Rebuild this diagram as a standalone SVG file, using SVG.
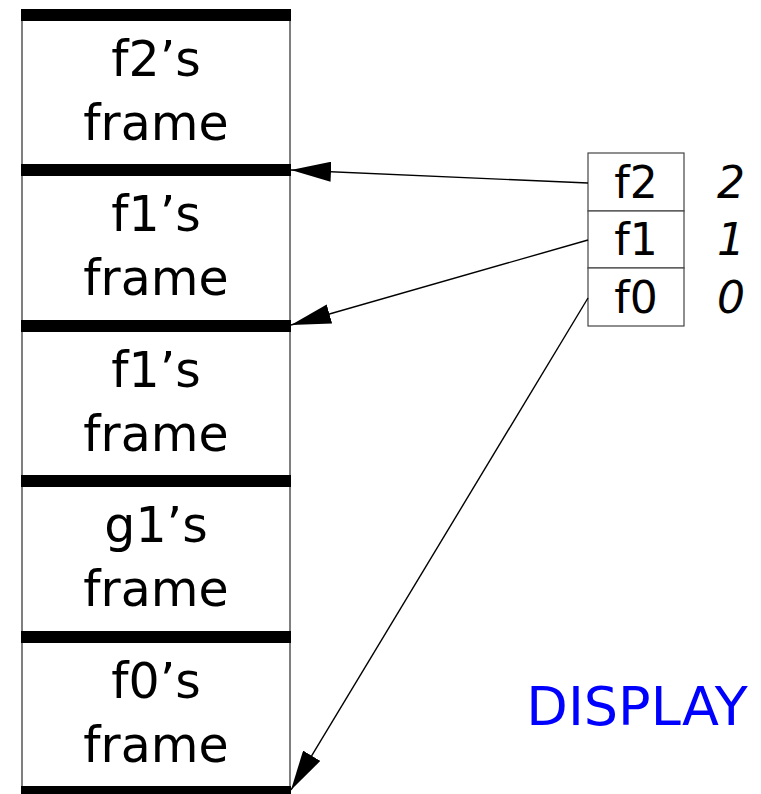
<svg xmlns="http://www.w3.org/2000/svg" width="761" height="794" viewBox="0 0 761 794">
<style>
.side{stroke:#555;stroke-width:1.5;fill:none}
.bar{fill:#000}
.lbl{font-family:"DejaVu Sans",sans-serif;font-size:49px;fill:#000;text-anchor:middle}
.cell{fill:#fff;stroke:#444;stroke-width:1.2}
.ct{font-family:"DejaVu Sans",sans-serif;font-size:44px;fill:#000;text-anchor:middle}
.num{font-family:"DejaVu Sans",sans-serif;font-style:italic;font-size:44px;fill:#000;text-anchor:middle}
.conn{stroke:#000;stroke-width:1.4;fill:none;marker-end:url(#ah)}
</style>
<defs>
<marker id="ah" markerUnits="userSpaceOnUse" markerWidth="40" markerHeight="20" refX="40" refY="10" orient="auto">
<path d="M0,0 L40,10 L0,20 z" fill="#000"/>
</marker>
</defs>
<rect width="761" height="794" fill="#fff"/>
<g id="stack">
<line class="side" x1="22" y1="15" x2="22" y2="791"/>
<line class="side" x1="290" y1="15" x2="290" y2="791"/>
<rect class="bar" x="21" y="9" width="270" height="12"/>
<rect class="bar" x="21" y="164" width="270" height="12"/>
<rect class="bar" x="21" y="320" width="270" height="12"/>
<rect class="bar" x="21" y="475" width="270" height="12"/>
<rect class="bar" x="21" y="631" width="270" height="12"/>
<rect class="bar" x="21" y="786" width="270" height="12"/>
</g>
<g id="frame-f2">
<text class="lbl" x="156" y="76">f2’s</text>
<text class="lbl" x="156" y="140">frame</text>
</g>
<g id="frame-f1a">
<text class="lbl" x="156" y="231">f1’s</text>
<text class="lbl" x="156" y="295">frame</text>
</g>
<g id="frame-f1b">
<text class="lbl" x="156" y="387">f1’s</text>
<text class="lbl" x="156" y="451">frame</text>
</g>
<g id="frame-g1">
<text class="lbl" x="156" y="542">g1’s</text>
<text class="lbl" x="156" y="606">frame</text>
</g>
<g id="frame-f0">
<text class="lbl" x="156" y="698">f0’s</text>
<text class="lbl" x="156" y="762">frame</text>
</g>
<g id="display">
<rect class="cell" x="588" y="153" width="96" height="58"/>
<rect class="cell" x="588" y="211" width="96" height="57"/>
<rect class="cell" x="588" y="268" width="96" height="58"/>
<text class="ct" x="636" y="198">f2</text>
<text class="ct" x="636" y="255">f1</text>
<text class="ct" x="636" y="313">f0</text>
<text class="num" x="731" y="198">2</text>
<text class="num" x="731" y="255">1</text>
<text class="num" x="731" y="313">0</text>
<text x="637" y="725" font-family="DejaVu Sans, sans-serif" font-size="54" fill="#0000ff" text-anchor="middle">DISPLAY</text>
</g>
<g id="connectors">
<line class="conn" x1="588" y1="183" x2="291" y2="170"/>
<line class="conn" x1="588" y1="240" x2="291" y2="325"/>
<line class="conn" x1="588" y1="298" x2="291" y2="790"/>
</g>
</svg>
